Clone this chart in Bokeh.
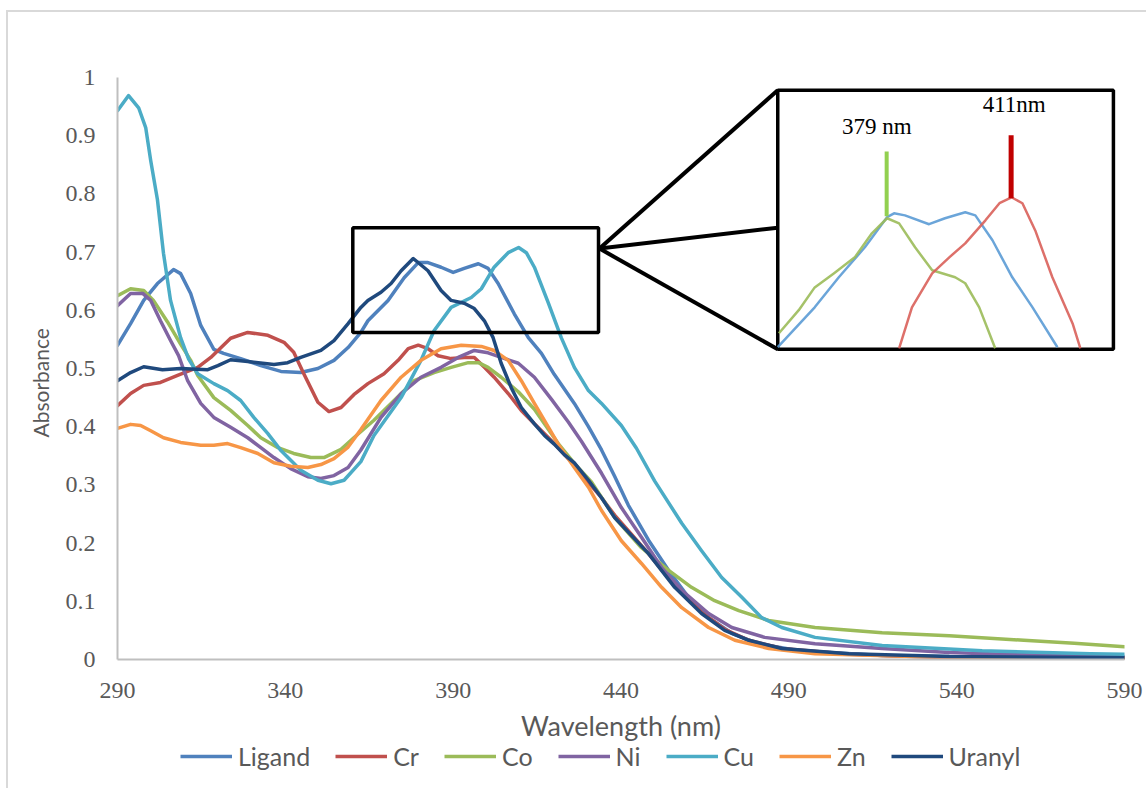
from bokeh.plotting import figure
from bokeh.layouts import column
from bokeh.models import (Range1d, FixedTicker, CustomJSTickFormatter, Legend, LegendItem, Label, Title,
                          InlineStyleSheet)
from bokeh.embed import file_html
from bokeh.resources import INLINE

# ---------------- data (wavelength in nm, absorbance) ----------------
series_names = ["Ligand", "Cr", "Co", "Ni", "Cu", "Zn", "Uranyl"]
series_colors = ["#4F81BD", "#C0504D", "#9BBB59", "#8064A2", "#4BACC6", "#F79646", "#1F497D"]

ligand_wl = [290, 293.9, 297.8, 301.9, 306.7, 308.8, 311.8, 314.8, 318.7, 321.6, 326.7, 332.7, 338.7, 344.6,
             349.7, 354.5, 358.7, 362.5, 364.6, 370.6, 375.4, 379.6, 382.5, 386.4, 390.0, 393.3, 397.5, 400.4,
             403.4, 408.2, 412.4, 416.3, 420.1, 426.1, 430.3, 434.2, 438.1, 442.2, 448.2, 454.2, 460.1, 466.1,
             473.0, 481.0, 493.0, 517.8, 550, 590]
ligand_abs = [0.540, 0.577, 0.617, 0.646, 0.670, 0.663, 0.629, 0.574, 0.533, 0.526, 0.517, 0.505, 0.495, 0.493,
              0.500, 0.514, 0.536, 0.562, 0.582, 0.617, 0.656, 0.682, 0.682, 0.674, 0.665, 0.672, 0.680, 0.672,
              0.646, 0.594, 0.553, 0.526, 0.490, 0.440, 0.400, 0.360, 0.315, 0.265, 0.205, 0.153, 0.107, 0.072,
              0.045, 0.027, 0.015, 0.007, 0.004, 0.003]

cr_wl = [290, 293.9, 297.8, 302.8, 307.9, 313.9, 317.8, 323.7, 328.8, 334.8, 339.6, 342.5, 345.5, 349.7, 353.0,
         356.6, 360.4, 364.6, 369.4, 373.6, 376.6, 379.6, 382.5, 385.5, 389.4, 393.3, 396.3, 399.3, 402.2, 406.4,
         410.3, 414.2, 419.3, 424.3, 429.1, 434.2, 438.1, 448.2, 456.0, 464.0, 470.9, 478.1, 487.9, 507.9, 537.8, 590]
cr_abs = [0.436, 0.457, 0.471, 0.476, 0.488, 0.502, 0.519, 0.552, 0.562, 0.557, 0.545, 0.528, 0.491, 0.442, 0.426,
          0.433, 0.455, 0.474, 0.491, 0.514, 0.534, 0.540, 0.534, 0.522, 0.517, 0.519, 0.519, 0.502, 0.485, 0.457,
          0.428, 0.405, 0.376, 0.345, 0.312, 0.278, 0.248, 0.182, 0.127, 0.081, 0.052, 0.033, 0.019, 0.009, 0.003, 0.002]

co_wl = [290, 293.9, 297.8, 300.7, 304.9, 308.8, 311.8, 313.9, 318.7, 323.7, 328.8, 332.7, 337.8, 342.5, 347.6,
         351.5, 356.6, 360.4, 366.4, 372.4, 378.4, 384.3, 389.4, 394.5, 397.5, 400.4, 404.3, 409.4, 414.2, 417.2,
         421.3, 426.1, 431.2, 438.1, 446.1, 454.2, 461.0, 467.9, 475.1, 484.0, 497.8, 517.8, 537.8, 560, 575, 590]
co_abs = [0.625, 0.637, 0.634, 0.617, 0.580, 0.542, 0.514, 0.488, 0.450, 0.428, 0.402, 0.381, 0.364, 0.354, 0.347,
          0.347, 0.361, 0.381, 0.411, 0.445, 0.479, 0.493, 0.502, 0.510, 0.510, 0.502, 0.485, 0.460, 0.430, 0.405,
          0.371, 0.337, 0.305, 0.244, 0.192, 0.153, 0.124, 0.101, 0.084, 0.067, 0.055, 0.046, 0.041, 0.033, 0.028, 0.022]

ni_wl = [290, 293.9, 297.5, 299.9, 302.8, 305.8, 308.2, 310.9, 314.8, 318.7, 323.7, 328.8, 332.7, 336.6, 341.6,
         346.7, 350.6, 354.5, 358.7, 362.5, 368.5, 374.5, 380.4, 386.4, 391.5, 396.3, 400.4, 404.3, 409.4, 414.2,
         419.3, 424.3, 428.2, 434.2, 440.1, 446.1, 452.1, 458.1, 466.1, 473.0, 482.8, 497.8, 517.8, 537.8, 560, 590]
ni_abs = [0.608, 0.629, 0.629, 0.617, 0.582, 0.548, 0.522, 0.479, 0.440, 0.416, 0.399, 0.381, 0.364, 0.347, 0.328,
          0.314, 0.311, 0.316, 0.330, 0.360, 0.416, 0.457, 0.485, 0.502, 0.519, 0.531, 0.527, 0.519, 0.509, 0.485,
          0.447, 0.408, 0.375, 0.320, 0.261, 0.210, 0.158, 0.119, 0.079, 0.055, 0.038, 0.027, 0.019, 0.012, 0.008, 0.005]

cu_wl = [290, 293.3, 296.3, 298.4, 299.9, 301.9, 303.7, 305.8, 308.8, 311.2, 313.9, 318.7, 322.8, 326.7, 330.6,
         334.8, 338.7, 344.6, 349.7, 353.6, 357.5, 362.5, 366.4, 374.5, 380.4, 384.3, 389.4, 395.4, 398.4, 402.2,
         406.4, 409.5, 411.8, 414.2, 418.4, 422.2, 426.1, 430.3, 434.2, 440.1, 444.6, 450.0, 458.1, 464.0, 470.0,
         476.0, 481.9, 487.9, 497.8, 517.8, 547.6, 579.9, 590]
cu_abs = [0.943, 0.969, 0.948, 0.914, 0.857, 0.790, 0.698, 0.617, 0.553, 0.516, 0.491, 0.474, 0.462, 0.445, 0.416,
          0.388, 0.359, 0.325, 0.308, 0.302, 0.308, 0.340, 0.385, 0.450, 0.514, 0.565, 0.605, 0.622, 0.637, 0.674,
          0.699, 0.708, 0.699, 0.674, 0.612, 0.553, 0.502, 0.462, 0.440, 0.402, 0.363, 0.307, 0.234, 0.187, 0.141,
          0.107, 0.072, 0.055, 0.038, 0.024, 0.015, 0.010, 0.009]

zn_wl = [290, 293.9, 296.9, 299.9, 303.7, 308.8, 314.8, 318.7, 322.8, 326.7, 331.8, 336.6, 341.6, 346.7, 350.6,
         354.5, 358.7, 362.5, 368.5, 374.5, 380.4, 386.4, 392.4, 398.4, 402.2, 406.4, 410.3, 414.2, 418.4, 421.3,
         426.1, 430.3, 434.2, 440.1, 446.1, 452.1, 458.1, 466.1, 473.9, 484.0, 497.8, 527.6, 560, 590]
zn_abs = [0.397, 0.404, 0.402, 0.393, 0.381, 0.373, 0.368, 0.368, 0.371, 0.364, 0.354, 0.338, 0.332, 0.330, 0.335,
          0.345, 0.365, 0.395, 0.445, 0.485, 0.514, 0.534, 0.540, 0.538, 0.531, 0.514, 0.479, 0.440, 0.399, 0.370,
          0.330, 0.296, 0.256, 0.204, 0.165, 0.124, 0.089, 0.055, 0.033, 0.019, 0.010, 0.005, 0.003, 0.002]

uranyl_wl = [290, 293.9, 297.8, 303.4, 308.8, 316.9, 319.9, 323.7, 328.8, 336.6, 340.7, 344.6, 350.6, 354.5, 358.7,
             362.5, 364.6, 368.5, 371.5, 374.5, 378.1, 382.5, 386.4, 389.4, 393.3, 396.3, 399.3, 401.9, 404.3, 407.3,
             410.3, 414.2, 417.2, 420.1, 423.1, 426.1, 430.3, 434.2, 438.1, 448.2, 456.0, 464.0, 470.9, 478.1, 487.9,
             507.9, 537.8, 590]
uranyl_abs = [0.479, 0.493, 0.503, 0.498, 0.500, 0.498, 0.505, 0.515, 0.512, 0.507, 0.510, 0.519, 0.531, 0.548, 0.577,
              0.605, 0.617, 0.631, 0.646, 0.668, 0.689, 0.668, 0.634, 0.617, 0.612, 0.603, 0.582, 0.553, 0.509, 0.467,
              0.433, 0.405, 0.385, 0.370, 0.352, 0.338, 0.308, 0.278, 0.244, 0.182, 0.124, 0.079, 0.050, 0.033, 0.019,
              0.010, 0.005, 0.003]

x_ticks = [290, 340, 390, 440, 490, 540, 590]
y_ticks = [0, 0.1, 0.2, 0.3, 0.4, 0.5, 0.6, 0.7, 0.8, 0.9, 1.0]

# ---------------- inset (zoomed sketch; nm, relative height 0..1 within inset) ----------------
inset_blue_wl = [351.0, 360.5, 366.7, 373.4, 379.1, 380.9, 383.7, 389.9, 394.0, 399.2, 401.8, 406.2, 411.3, 416.5, 422.9]
inset_blue_v = [0.008, 0.162, 0.278, 0.394, 0.510, 0.525, 0.517, 0.483, 0.506, 0.529, 0.517, 0.421, 0.278, 0.162, 0.008]
inset_green_wl = [351.3, 356.4, 360.5, 365.4, 370.8, 375.2, 379.1, 382.2, 386.3, 390.7, 396.6, 399.2, 402.8, 406.9]
inset_green_v = [0.062, 0.151, 0.239, 0.293, 0.355, 0.448, 0.506, 0.486, 0.394, 0.305, 0.278, 0.255, 0.162, 0.004]
inset_red_wl = [382.2, 385.5, 390.7, 395.1, 399.2, 404.4, 408.0, 411.1, 413.9, 417.2, 421.6, 426.8, 428.8]
inset_red_v = [0.004, 0.162, 0.293, 0.355, 0.409, 0.498, 0.564, 0.587, 0.564, 0.459, 0.278, 0.100, 0.004]
inset_peaks = [379, 411]
inset_peak_labels = ["379 nm", "411nm"]

# ---------------- figure ----------------
FONT_SANS = "Lato"
FONT_SERIF = "Liberation Serif"
GREY = "#595959"

chart_border = InlineStyleSheet(css="""
:host::after { content: ""; position: absolute; left: 6px; top: 10px; right: 0px; bottom: 0px;
  border-left: 2px solid #D9D9D9; border-top: 2px solid #D9D9D9; pointer-events: none; }
""")
legend_border = InlineStyleSheet(css="""
:host::after { content: ""; position: absolute; left: 6px; top: 0px; right: 0px; bottom: 0px;
  border-left: 2px solid #D9D9D9; pointer-events: none; }
""")

MAIN_H = 752
p = figure(width=1146, height=MAIN_H, output_backend="svg", toolbar_location=None,
           x_range=Range1d(290, 590), y_range=Range1d(0, 1),
           min_border_left=117, min_border_right=22, min_border_top=77, min_border_bottom=MAIN_H - 659)
p.stylesheets = [chart_border]
p.outline_line_color = None
p.grid.grid_line_color = None
p.background_fill_color = "white"
p.border_fill_color = "white"

for ax in (p.xaxis[0], p.yaxis[0]):
    ax.axis_line_color = "#BFBFBF"
    ax.axis_line_width = 2
    ax.major_tick_line_color = None
    ax.minor_tick_line_color = None
    ax.major_tick_out = 0
    ax.major_tick_in = 0
    ax.major_label_text_font = FONT_SERIF
    ax.major_label_text_font_size = "24px"
    ax.major_label_text_color = GREY
    ax.axis_label_text_font = FONT_SANS
    ax.axis_label_text_font_style = "normal"
    ax.axis_label_text_color = GREY

p.xaxis.axis_label_text_font_size = "27px"
p.xaxis.ticker = FixedTicker(ticks=x_ticks)
p.yaxis.ticker = FixedTicker(ticks=y_ticks)
p.yaxis.formatter = CustomJSTickFormatter(code="return tick.toFixed(1).replace(/\\.0$/, '');")
p.xaxis.major_label_standoff = 23
p.yaxis.major_label_standoff = 22
p.xaxis.axis_label = "Wavelength (nm)"
p.xaxis.axis_label_standoff = 8

# y-axis title as a side-panel title so it can sit a little below the frame's middle
p.add_layout(Title(text="Absorbance", align="left", offset=222, standoff=20,
                   text_font=FONT_SANS, text_font_size="21px", text_font_style="normal",
                   text_color=GREY), "left")

all_wl = [ligand_wl, cr_wl, co_wl, ni_wl, cu_wl, zn_wl, uranyl_wl]
all_abs = [ligand_abs, cr_abs, co_abs, ni_abs, cu_abs, zn_abs, uranyl_abs]
for name, col, wl, ab in zip(series_names, series_colors, all_wl, all_abs):
    p.line(wl, ab, line_color=col, line_width=3.5, line_join="round", line_cap="round")

# ---------------- zoom box, connectors and inset ----------------
ZOOM_BOX = (360.1, 433.3, 0.562, 0.742)    # left, right, bottom, top
INSET_BOX = (486.7, 586.7, 0.533, 0.978)   # left, right, bottom, top
INSET_NM = (351.0, 437.3)
APEX = (433.6, 0.706)

p.quad(left=[ZOOM_BOX[0]], right=[ZOOM_BOX[1]], bottom=[ZOOM_BOX[2]], top=[ZOOM_BOX[3]],
       fill_color=None, line_color="black", line_width=3.5)
p.segment(x0=[APEX[0]] * 3, y0=[APEX[1]] * 3, x1=[INSET_BOX[0]] * 3,
          y1=[INSET_BOX[3], ZOOM_BOX[3], INSET_BOX[2]], line_color="black", line_width=4)
p.quad(left=[INSET_BOX[0]], right=[INSET_BOX[1]], bottom=[INSET_BOX[2]], top=[INSET_BOX[3]],
       fill_color="white", line_color="black", line_width=3.5)


def ix(nm_list):
    return [INSET_BOX[0] + (v - INSET_NM[0]) / (INSET_NM[1] - INSET_NM[0]) * (INSET_BOX[1] - INSET_BOX[0]) for v in nm_list]


def iy(v_list):
    return [INSET_BOX[2] + v * (INSET_BOX[3] - INSET_BOX[2]) for v in v_list]


p.line(ix(inset_blue_wl), iy(inset_blue_v), line_color="#5B9BD5", line_width=2.5, line_alpha=0.9, line_join="round")
p.line(ix(inset_green_wl), iy(inset_green_v), line_color="#9BBB59", line_width=2.5, line_alpha=0.9, line_join="round")
p.line(ix(inset_red_wl), iy(inset_red_v), line_color="#D9605A", line_width=2.5, line_alpha=0.9, line_join="round")

# peak marker bars
p.segment(x0=ix([inset_peaks[0]]), x1=ix([inset_peaks[0]]), y0=iy([0.514]), y1=iy([0.764]),
          line_color="#92D050", line_width=4)
p.segment(x0=ix([inset_peaks[1]]), x1=ix([inset_peaks[1]]), y0=iy([0.583]), y1=iy([0.826]),
          line_color="#C00000", line_width=5)
for nm, lab, v in zip([376.5, 411.8], inset_peak_labels, [0.861, 0.946]):
    p.add_layout(Label(x=ix([nm])[0], y=iy([v])[0], text=lab, text_font=FONT_SERIF, text_font_size="23px",
                       text_color="black", text_align="center", text_baseline="middle"))

# ---------------- legend strip (second, transparent figure overlapping the bottom) ----------------
LEG_H = 64
pl = figure(width=1146, height=LEG_H, output_backend="svg", toolbar_location=None,
            x_range=Range1d(0, 1), y_range=Range1d(0, 1), min_border=0,
            x_axis_location=None, y_axis_location=None, margin=(-(MAIN_H + LEG_H - 788), 0, 0, 0))
pl.stylesheets = [legend_border]
pl.outline_line_color = None
pl.grid.grid_line_color = None
pl.background_fill_alpha = 0
pl.border_fill_alpha = 0
items = []
for name, col in zip(series_names, series_colors):
    r = pl.line(x=[float("nan")], y=[float("nan")], line_color=col, line_width=3.5)
    items.append(LegendItem(label=name, renderers=[r]))
legend = Legend(items=items, orientation="horizontal", location="left", margin=63,
                glyph_width=52, glyph_height=24, label_standoff=6, spacing=25,
                padding=0, border_line_color=None, background_fill_alpha=0,
                label_text_font=FONT_SANS, label_text_font_size="25px", label_text_color=GREY)
pl.add_layout(legend, "center")

layout = column(p, pl, spacing=0)
open("out.html", "w").write(file_html(layout, INLINE))
